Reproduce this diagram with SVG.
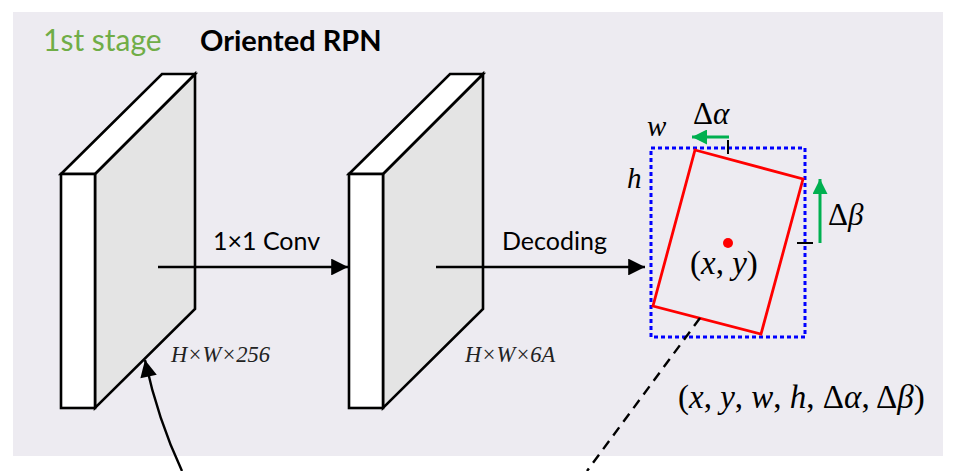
<svg xmlns="http://www.w3.org/2000/svg" width="965" height="471" viewBox="0 0 965 471">
<style>
.slabf{fill:#ffffff;stroke:#000;stroke-width:2.6;stroke-linejoin:miter}
.slabs{fill:#e4e4e4;stroke:#000;stroke-width:2.6;stroke-linejoin:miter}
.conn{stroke:#000;stroke-width:2.4;fill:none}
.lbl{font-family:Lato,"Open Sans","Liberation Sans",sans-serif;font-size:25px;fill:#000}
.math{font-family:"Liberation Serif","DejaVu Serif",serif;fill:#000}
.it{font-style:italic}
.dim{font-family:"Liberation Serif","DejaVu Serif",serif;font-style:italic;font-size:22.5px;fill:#222}
</style>
<defs>
<marker id="ah" viewBox="0 0 10 10" refX="10" refY="5" markerWidth="8" markerHeight="7" orient="auto" markerUnits="strokeWidth">
<path d="M0,0 L10,5 L0,10 z" fill="#000"/>
</marker>
<marker id="ahg" viewBox="0 0 10 10" refX="10" refY="5" markerWidth="5" markerHeight="5" orient="auto" markerUnits="strokeWidth">
<path d="M0,0 L10,5 L0,10 z" fill="#00b050"/>
</marker>
</defs>
<rect x="13" y="12" width="930" height="444" fill="#edebf1"/>
<text x="43" y="51" font-family="Lato,'Open Sans','Liberation Sans',sans-serif" font-size="30" fill="#70ad47">1st stage</text>
<text x="200" y="51" font-family="Lato,'Open Sans','Liberation Sans',sans-serif" font-size="29" font-weight="bold" fill="#000">Oriented RPN</text>

<g id="slab1">
<polygon class="slabs" points="95,174 195,74 195,309 95,408"/>
<polygon class="slabf" points="61,174 162,74 195,74 95,174"/>
<rect class="slabf" x="61" y="174" width="34" height="234"/>
</g>
<g id="slab2">
<polygon class="slabs" points="383,174 483,74 483,309 383,408"/>
<polygon class="slabf" points="349,174 450,74 483,74 383,174"/>
<rect class="slabf" x="349" y="174" width="34" height="234"/>
</g>
<text class="dim" x="171" y="362">H×W×256</text>
<text class="dim" x="465" y="362">H×W×6A</text>

<g id="box">
<rect x="651" y="148" width="154" height="189" fill="none" stroke="#0000ff" stroke-width="3" stroke-dasharray="4,3"/>
<polygon points="695,150 803,179 761,334 653,306" fill="none" stroke="#ff0000" stroke-width="2.8"/>
<circle cx="728" cy="243" r="5" fill="#ff0000"/>
<line x1="728" y1="140" x2="728" y2="154" stroke="#000" stroke-width="2"/>
<line x1="797" y1="243" x2="813" y2="243" stroke="#000" stroke-width="2"/>
<line x1="729" y1="137" x2="692" y2="137" stroke="#00b050" stroke-width="3" marker-end="url(#ahg)"/>
<line x1="820" y1="243" x2="820" y2="179" stroke="#00b050" stroke-width="3" marker-end="url(#ahg)"/>
<text class="math" x="693" y="124" font-size="31">Δ<tspan class="it">α</tspan></text>
<text class="math" x="828" y="225" font-size="31">Δ<tspan class="it">β</tspan></text>
<text class="math it" x="647" y="136" font-size="29">w</text>
<text class="math it" x="627" y="188" font-size="29">h</text>
<text class="math" x="690" y="274" font-size="33">(<tspan class="it">x</tspan>, <tspan class="it">y</tspan>)</text>
<text class="math" x="678" y="408" font-size="33">(<tspan class="it">x</tspan>, <tspan class="it">y</tspan>, <tspan class="it">w</tspan>, <tspan class="it">h</tspan>, Δ<tspan class="it">α</tspan>, Δ<tspan class="it">β</tspan>)</text>
</g>

<g id="connectors">
<line class="conn" x1="158" y1="267" x2="348" y2="267" marker-end="url(#ah)"/>
<line class="conn" x1="436" y1="267" x2="645" y2="267" marker-end="url(#ah)"/>
<path class="conn" d="M182,471 Q158,420 145,360" marker-end="url(#ah)"/>
<line class="conn" x1="700" y1="318" x2="587" y2="471" stroke-dasharray="10,7" stroke-width="1.8"/>
</g>
<text class="lbl" x="213" y="250">1×1 Conv</text>
<text class="lbl" x="502" y="250">Decoding</text>
</svg>
